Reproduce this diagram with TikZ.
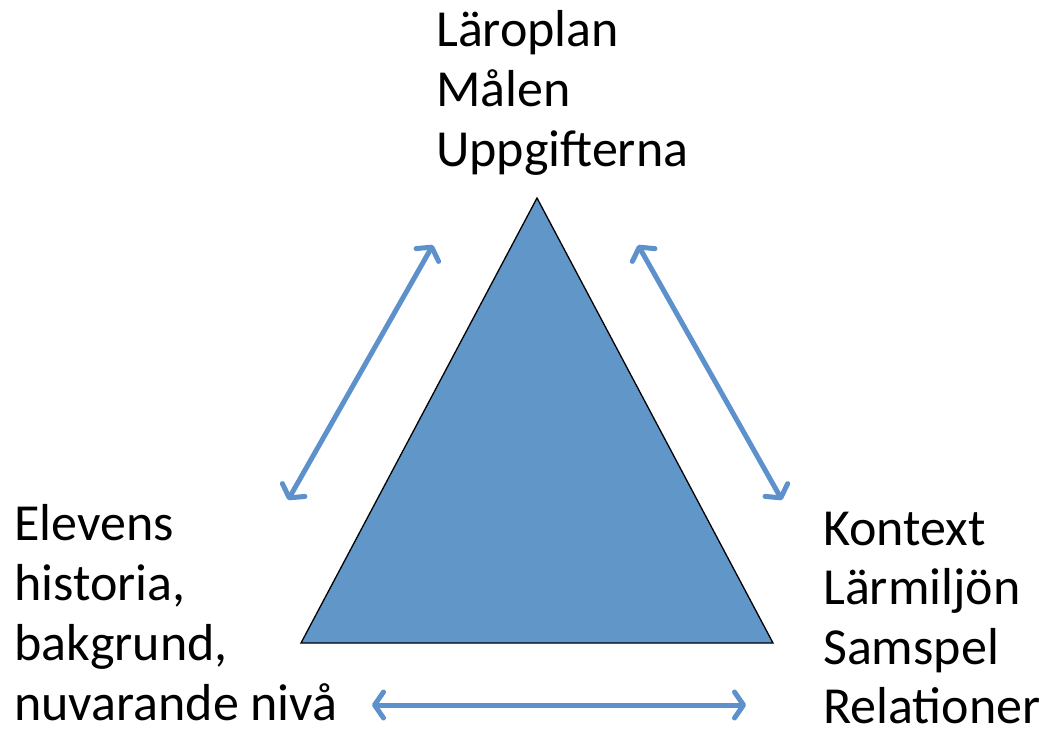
\documentclass[tikz,border=0pt]{standalone}
\usepackage{fontspec}
\setmainfont{Carlito}
\usetikzlibrary{arrows.meta}
\definecolor{trifill}{RGB}{97,150,200}
\definecolor{arrowblue}{RGB}{93,145,203}
\tikzset{
  lbl/.style={anchor=base west, inner sep=0pt, font=\fontsize{52}{60}\selectfont},
  dblarrow/.style={draw=arrowblue, line width=5pt, line cap=round,
    {Straight Barb[length=9pt,width=26pt,line cap=round,line join=round]}-{Straight Barb[length=9pt,width=26pt,line cap=round,line join=round]}},
  tri/.style={fill=trifill, draw=black, line width=1.3pt, line join=miter}
}
\begin{document}
\begin{tikzpicture}[x=1pt,y=-1pt]
\useasboundingbox (0,0) rectangle (1047,732);
% triangle
\coordinate (apex) at (537,198);
\coordinate (bl) at (301,643);
\coordinate (br) at (773,643);
\draw[tri] (apex) -- (bl) -- (br) -- cycle;
% arrows
\coordinate (la1) at (288,500);
\coordinate (la2) at (433,245);
\coordinate (ra1) at (638,245);
\coordinate (ra2) at (782,500);
\coordinate (ba1) at (372,705);
\coordinate (ba2) at (746,705);
\draw[dblarrow] (la1) -- (la2);
\draw[dblarrow] (ra1) -- (ra2);
\draw[dblarrow] (ba1) -- (ba2);
% top text
\node[lbl] (t1) at (436,46) {Läroplan};
\node[lbl] (t2) at (436,106) {Målen};
\node[lbl] (t3) at (436,166) {Uppgifterna};
% left text
\node[lbl] (l1) at (14,540) {Elevens};
\node[lbl] (l2) at (14,600) {historia,};
\node[lbl] (l3) at (14,660) {bakgrund,};
\node[lbl] (l4) at (14,720) {nuvarande nivå};
% right text
\node[lbl] (r1) at (823,545) {Kontext};
\node[lbl] (r2) at (823,604) {Lärmiljön};
\node[lbl] (r3) at (823,664) {Samspel};
\node[lbl] (r4) at (823,723) {Relationer};
\end{tikzpicture}
\end{document}
